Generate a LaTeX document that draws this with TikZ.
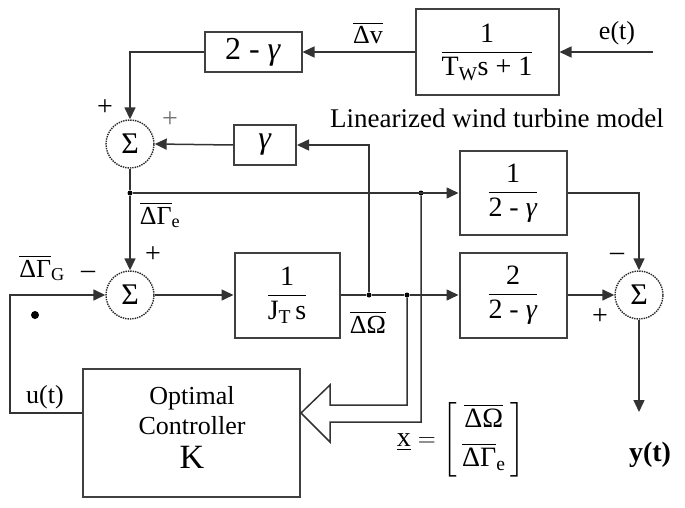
\documentclass[tikz,border=0pt]{standalone}
\usepackage{fontspec}
\setmainfont{Liberation Serif}
\usepackage{amsmath}
\usetikzlibrary{arrows.meta,positioning}

\newcommand{\sopra}[1]{\ensuremath{\overline{\text{#1}}}}
\newcommand{\gam}{\textit{γ}}

\tikzset{
  blocco/.style={draw=black!75, line width=2pt, fill=white, inner sep=0pt,
    font=\fontsize{28}{32}\selectfont},
  somma/.style={circle, draw=black!85, densely dotted, line width=1.4pt,
    minimum size=48pt, inner sep=0pt, font=\fontsize{30}{32}\selectfont},
  filo/.style={line width=1.5pt, draw=black!80},
  freccia/.style={filo, -{Triangle[length=12pt,width=11pt]}},
  nodo/.style={circle, fill=black, inner sep=0pt, minimum size=5pt},
  etich/.style={font=\fontsize{26}{30}\selectfont, inner sep=0pt},
  segno/.style={font=\fontsize{28}{30}\selectfont, inner sep=0pt}
}

\begin{document}
\begin{tikzpicture}[x=1pt, y=-1pt]

        \useasboundingbox (0,0) rectangle (685,508);

        % 1. Blocchi del modello linearizzato
        \node[blocco, minimum width=143pt, minimum height=86pt] (vento) at (487,52)
            {$\dfrac{\text{1}}{\text{T}_\text{W}\text{s + 1}}$};
        \node[blocco, minimum width=97pt, minimum height=40pt] (gdue) at (253,52)
            {\fontsize{32}{36}\selectfont 2 - \gam};
        \node[blocco, minimum width=62pt, minimum height=39pt] (gfb) at (265,145)
            {\fontsize{32}{34}\selectfont \gam};
        \node[blocco, minimum width=107pt, minimum height=84pt] (inv) at (513,193)
            {$\dfrac{\text{1}}{\text{2 - \gam}}$};
        \node[blocco, minimum width=105pt, minimum height=85pt] (plant) at (287,295)
            {$\dfrac{\text{1}}{\text{J}_\text{T}\,\text{s}}$};
        \node[blocco, minimum width=107pt, minimum height=85pt] (due) at (513,295)
            {$\dfrac{\text{2}}{\text{2 - \gam}}$};

        % 2. Nodi sommatori
        \node[somma] (s1) at (130,144) {Σ};
        \node[somma] (s2) at (130,295) {Σ};
        \node[somma] (s3) at (639,295) {Σ};

        % 3. Controllore ottimo
        \node[blocco, minimum width=217pt, minimum height=128pt] (ctrl) at (191.5,433) {};
        \node[etich, align=center] (ctrltxt) at (192,427)
            {\fontsize{26}{34}\selectfont Optimal\\Controller\\[4pt]{\fontsize{34}{36}\selectfont K}};

        % 4. Punti di diramazione e estremi liberi
        \coordinate (ein) at (653,52);
        \coordinate (uin) at (10,413);
        \coordinate (yout) at (639,412);
        \node[nodo] (jE) at (130,193) {};
        \node[nodo] (jD) at (421,193) {};
        \node[nodo] (jO) at (369,295) {};
        \node[nodo] (jX) at (407,295) {};

        % 5. Collegamenti
        \draw[freccia] (ein) -- (vento.east);
        \draw[freccia] (vento.west) -- (gdue.east);
        \draw[freccia] (gdue.west) -| (s1.north);
        \draw[freccia] (gfb.west) -- (s1.east);
        \draw[filo] (s1.south) -- (jE);
        \draw[freccia] (jE) -- (s2.north);
        \draw[freccia] (jE) -- (inv.west);
        \draw[freccia] (inv.east) -| (s3.north);
        \draw[freccia] (s2.east) -- (plant.west);
        \draw[filo] (plant.east) -- (jO) -- (jX);
        \draw[freccia] (jX) -- (due.west);
        \draw[freccia] (jO) |- (gfb.east);
        \draw[freccia] (due.east) -- (s3.west);
        \draw[freccia] (s3.south) -- (yout);
        \draw[freccia] (ctrl.west |- uin) -- (uin) |- (s2.west);

        % 6. Freccia vuota dello stato verso il controllore
        \draw[filo, line join=miter] (jX) -- (407,405) -- (330,405) -- (330,385)
            -- (ctrl.east |- uin) -- (330,442) -- (330,422) -- (421,422) -- (jD);

        % 7. Etichette e segni
        \node[etich] (lv) at (368,33) {\sopra{Δv}};
        \node[etich] (le) at (617,33) {e(t)};
        \node[etich, font=\fontsize{27}{30}\selectfont] (lmod) at (497,118) {Linearized wind turbine model};
        \node[etich] (lge) at (160,215) {$\overline{\text{ΔΓ}}_\text{e}$};
        \node[etich] (lgg) at (42,268) {$\overline{\text{ΔΓ}}_\text{G}$};
        \node[etich] (lom) at (368,322) {\sopra{ΔΩ}};
        \node[etich] (lu) at (45,397) {u(t)};
        \node[etich, font=\fontsize{28}{30}\selectfont\bfseries] (ly) at (650,455) {y(t)};
        \node[etich, font=\fontsize{28}{32}\selectfont] (lx) at (461,440)
            {$\underline{\text{x}} = \left[\begin{array}{c}\overline{\text{ΔΩ}}\\[6pt]
             \overline{\text{ΔΓ}}_\text{e}\end{array}\right]$};
        \fill (35,315) circle (4pt);

        \node[segno] (p1) at (105,108) {+};
        \node[segno, text=black!55] (p2) at (170,120) {+};
        \node[segno] (p3) at (153,255) {+};
        \node[segno] (m1) at (88,275) {--};
        \node[segno] (m2) at (617,257) {--};
        \node[segno] (p4) at (600,317) {+};

\end{tikzpicture}
\end{document}
